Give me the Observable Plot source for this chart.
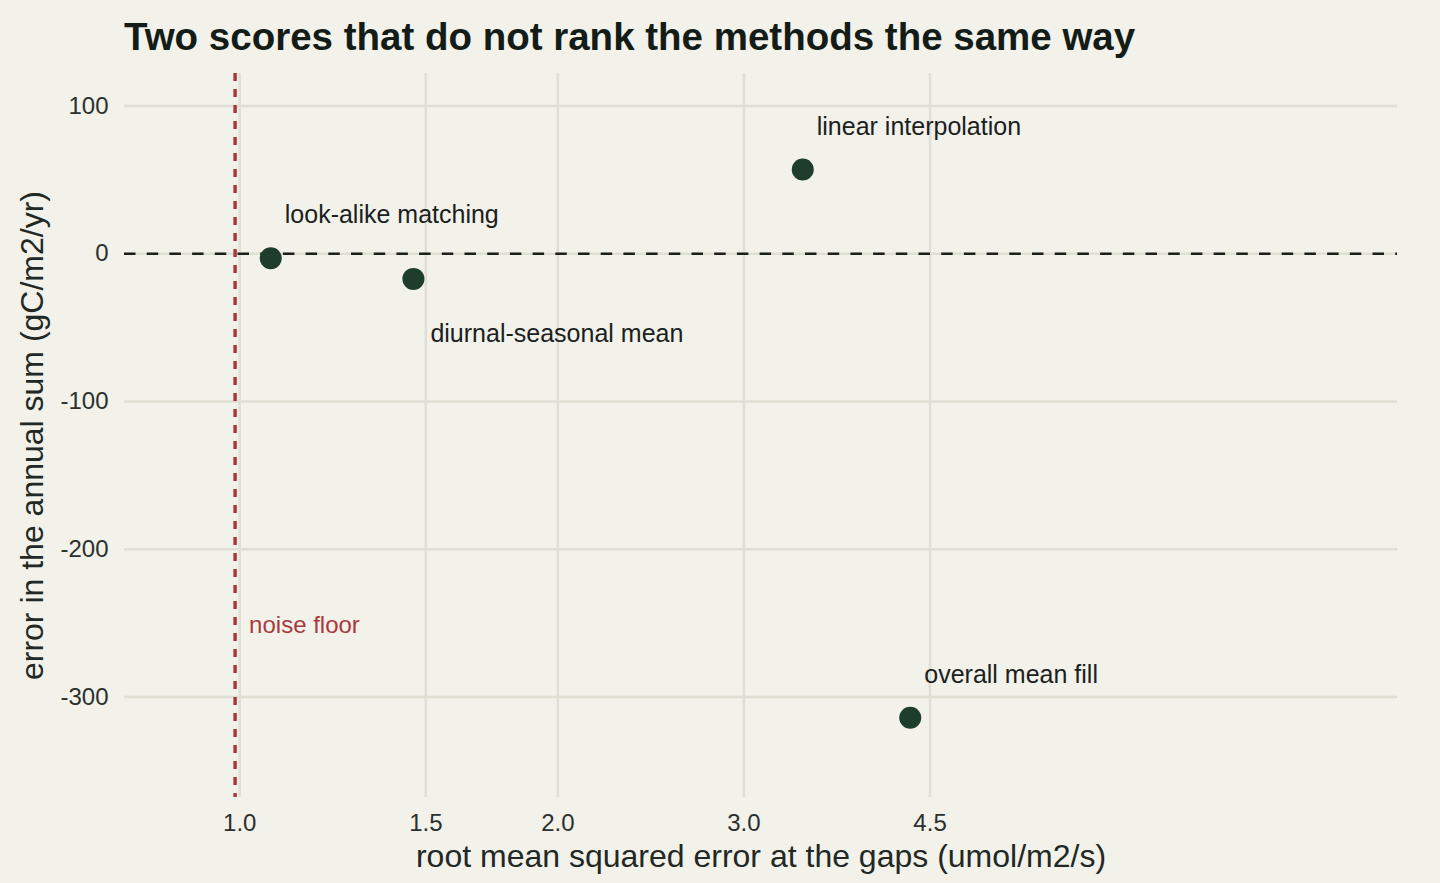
<!DOCTYPE html>
<html>
<head>
<meta charset="utf-8">
<script src="https://cdn.jsdelivr.net/npm/d3@7"></script>
<script src="https://cdn.jsdelivr.net/npm/@observablehq/plot@0.6"></script>
<style>
  html, body { margin: 0; padding: 0; background: #f2f1ea; }
  body { width: 1440px; height: 883px; overflow: hidden; font-family: "Liberation Sans", Arial, sans-serif; }
  #title { box-sizing: border-box; height: 70px; padding: 18px 0 0 124px; font-size: 38.5px; line-height: 38px; font-weight: bold; color: #141c17; white-space: nowrap; }
  #chart svg { display: block; }
</style>
</head>
<body>
<div id="title">Two scores that do not rank the methods the same way</div>
<div id="chart"></div>
<script>
const methods = ["look-alike matching", "diurnal-seasonal mean", "linear interpolation", "overall mean fill"];
const rmse = [1.07, 1.46, 3.41, 4.31];
const annualError = [-3, -17, 57, -314];
const noiseFloor = 0.99;
const noiseLabel = "noise floor";
const xTicks = [1.0, 1.5, 2.0, 3.0, 4.5];
const yTicks = [-300, -200, -100, 0, 100];
const xLabel = "root mean squared error at the gaps (umol/m2/s)";
const yLabel = "error in the annual sum (gC/m2/yr)";
const belowLabels = ["diurnal-seasonal mean"];

const data = methods.map((m, i) => ({method: m, rmse: rmse[i], err: annualError[i]}));
const above = data.filter(d => !belowLabels.includes(d.method));
const below = data.filter(d => belowLabels.includes(d.method));

const gridColor = "#e0dfd4";
const ink = "#1a211d";

const chart = Plot.plot({
  width: 1440,
  height: 813,
  marginTop: 3,
  marginBottom: 86,
  marginLeft: 124,
  marginRight: 43,
  style: {background: "#f2f1ea", fontFamily: "'Liberation Sans', Arial, sans-serif", color: ink},
  x: {type: "log", domain: [0.778, 12.46]},
  y: {domain: [-368, 122]},
  marks: [
    Plot.gridX(xTicks, {stroke: gridColor, strokeOpacity: 1, strokeWidth: 2.5}),
    Plot.gridY(yTicks, {stroke: gridColor, strokeOpacity: 1, strokeWidth: 2.5}),
    Plot.axisX(xTicks, {tickSize: 0, tickPadding: 16, fontSize: 24, tickFormat: d3.format(".1f"), label: null, fill: "#2b302d"}),
    Plot.axisY(yTicks, {tickSize: 0, tickPadding: 16, fontSize: 24, tickFormat: d => String(d), label: null, fill: "#2b302d"}),
    Plot.ruleY([0], {stroke: ink, strokeWidth: 2.4, strokeDasharray: "11.5,11.2"}),
    Plot.ruleX([noiseFloor], {stroke: "#a83a3e", strokeWidth: 3.5, strokeDasharray: "8,8"}),
    Plot.text([noiseLabel], {x: noiseFloor, y: -250, textAnchor: "start", lineAnchor: "middle", dx: 14, dy: 2, fontSize: 24, fill: "#a83a3e"}),
    Plot.dot(data, {x: "rmse", y: "err", r: 11, fill: "#1f3d2c", stroke: "none"}),
    Plot.text(above, {x: "rmse", y: "err", text: "method", textAnchor: "start", lineAnchor: "middle", dx: 14, dy: -43, fontSize: 25, fill: ink}),
    Plot.text(below, {x: "rmse", y: "err", text: "method", textAnchor: "start", lineAnchor: "middle", dx: 17, dy: 55, fontSize: 25, fill: ink}),
    Plot.text([xLabel], {frameAnchor: "bottom", textAnchor: "middle", lineAnchor: "middle", dy: 59, fontSize: 32, fill: "#222824"}),
    Plot.text([yLabel], {frameAnchor: "left", rotate: -90, textAnchor: "middle", lineAnchor: "middle", dx: -92, fontSize: 32, fill: "#222824"})
  ]
});
document.getElementById("chart").appendChild(chart);
</script>
</body>
</html>
